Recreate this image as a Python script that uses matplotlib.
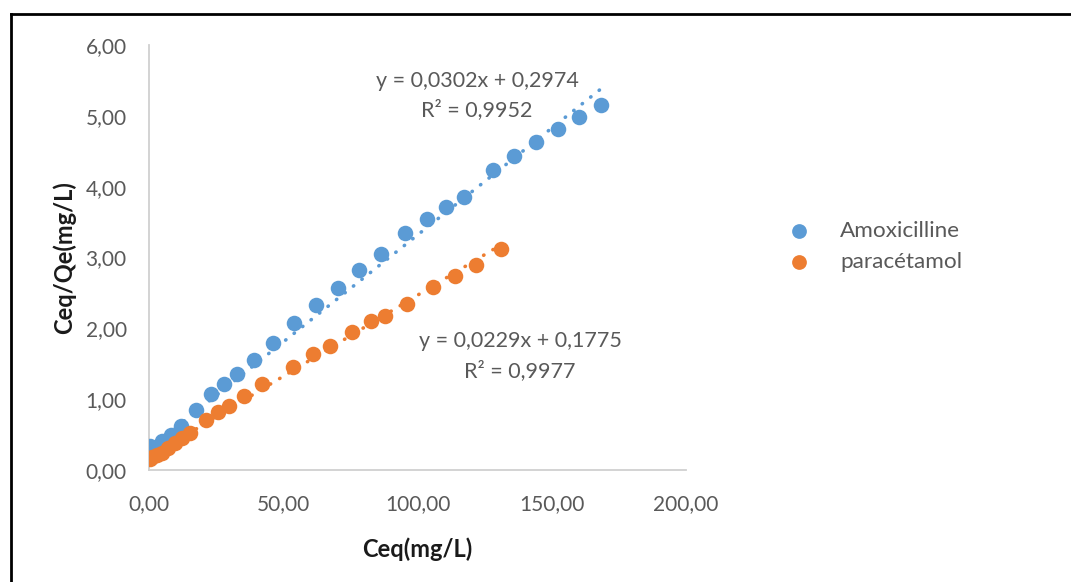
import matplotlib
matplotlib.use("Agg")
import matplotlib.pyplot as plt
from matplotlib.lines import Line2D
from matplotlib.ticker import FuncFormatter, MultipleLocator
import numpy as np

plt.rcParams['font.family'] = ['Lato', 'DejaVu Sans']

# Linearised isotherm data: Ceq (mg/L) vs Ceq/Qe
amox_ceq = [0.4, 4.8, 8.2, 11.9, 17.5, 23.1, 27.9, 32.8, 39.1, 46.2, 54.0,
            62.2, 70.4, 78.2, 86.4, 95.3, 103.5, 110.6, 117.3, 128.1, 135.9,
            144.1, 152.3, 160.1, 168.3]
amox_ratio = [0.34, 0.41, 0.50, 0.62, 0.85, 1.07, 1.22, 1.35, 1.55, 1.79, 2.08,
              2.33, 2.57, 2.82, 3.05, 3.34, 3.55, 3.72, 3.86, 4.23, 4.44,
              4.63, 4.81, 4.98, 5.16]

para_ceq = [0.3, 1.1, 3.0, 4.8, 7.1, 9.7, 12.3, 15.3, 21.2, 25.7, 29.8, 35.4,
            42.1, 53.6, 61.1, 67.4, 75.6, 82.7, 87.9, 96.1, 105.8, 114.0,
            121.8, 131.1]
para_ratio = [0.15, 0.18, 0.21, 0.24, 0.31, 0.38, 0.45, 0.52, 0.71, 0.82, 0.90,
              1.04, 1.21, 1.45, 1.64, 1.75, 1.95, 2.10, 2.17, 2.34, 2.58, 2.74,
              2.90, 3.12]

# Linear fits (slope, intercept, R²)
amox_fit = (0.0302, 0.2974, 0.9952)
para_fit = (0.0229, 0.1775, 0.9977)

series_names = ["Amoxicilline", "paracétamol"]
x_label = "Ceq(mg/L)"
y_label = "Ceq/Qe(mg/L)"

BLUE = "#5B9BD5"
ORANGE = "#ED7D31"
GREY_TXT = "#595959"

W, H = 1071, 582
fig = plt.figure(figsize=(W / 100, H / 100), dpi=100)
ax = fig.add_axes([149 / W, 112 / H, 537 / W, 425 / H])


def fmt(v):
    return f"{v:.2f}".replace(".", ",")


def fmt4(v):
    return f"{v:.4f}".replace(".", ",")


for xs, ys, col, name, fit in [(amox_ceq, amox_ratio, BLUE, series_names[0], amox_fit),
                               (para_ceq, para_ratio, ORANGE, series_names[1], para_fit)]:
    ax.scatter(xs, ys, s=125, color=col, label=name, zorder=3, linewidths=0)
    xx = np.linspace(min(xs), max(xs), 200)
    ax.plot(xx, fit[0] * xx + fit[1], color=col, lw=2.6,
            linestyle=(0, (0.1, 2.9)), dash_capstyle="round", zorder=4)

ax.set_xlim(0, 200)
ax.set_ylim(0, 6)
ax.xaxis.set_major_locator(MultipleLocator(50))
ax.yaxis.set_major_locator(MultipleLocator(1))
ax.xaxis.set_major_formatter(FuncFormatter(lambda v, p: fmt(v)))
ax.yaxis.set_major_formatter(FuncFormatter(lambda v, p: fmt(v)))
ax.tick_params(axis="both", length=0, labelsize=15, labelcolor=GREY_TXT)
ax.tick_params(axis="x", pad=17)
ax.tick_params(axis="y", pad=16)

for side in ("top", "right"):
    ax.spines[side].set_visible(False)
for side in ("left", "bottom"):
    ax.spines[side].set_color("#D0D0D0")
    ax.spines[side].set_linewidth(1.3)

ax.set_xlabel(x_label, fontsize=17, fontweight="bold", color="#1a1a1a", labelpad=17)
ax.set_ylabel(y_label, fontsize=17, fontweight="bold", color="#1a1a1a", labelpad=7)

# Trendline equations
ax.text(122.2, 5.29, f"y = {fmt4(amox_fit[0])}x + {fmt4(amox_fit[1])}\nR² = {fmt4(amox_fit[2])}",
        ha="center", va="center", fontsize=15.5, color=GREY_TXT, linespacing=1.5)
ax.text(138.2, 1.61, f"y = {fmt4(para_fit[0])}x + {fmt4(para_fit[1])}\nR² = {fmt4(para_fit[2])}",
        ha="center", va="center", fontsize=15.5, color=GREY_TXT, linespacing=1.5)

leg = ax.legend(loc="center left", bbox_to_anchor=(767 / W, 1 - 246.5 / H),
                bbox_transform=fig.transFigure, frameon=False, fontsize=16.2,
                handletextpad=0.85, labelspacing=0.5, markerscale=0.95,
                borderaxespad=0)
for t in leg.get_texts():
    t.set_color(GREY_TXT)

# Outer frame
fig.add_artist(Line2D([11 / W, 1.0], [1 - 14 / H, 1 - 14 / H],
                      transform=fig.transFigure, color="black", lw=2))
fig.add_artist(Line2D([11 / W, 11 / W], [0, 1 - 14 / H],
                      transform=fig.transFigure, color="black", lw=2))

fig.savefig("out.png", dpi=100, facecolor="white")
